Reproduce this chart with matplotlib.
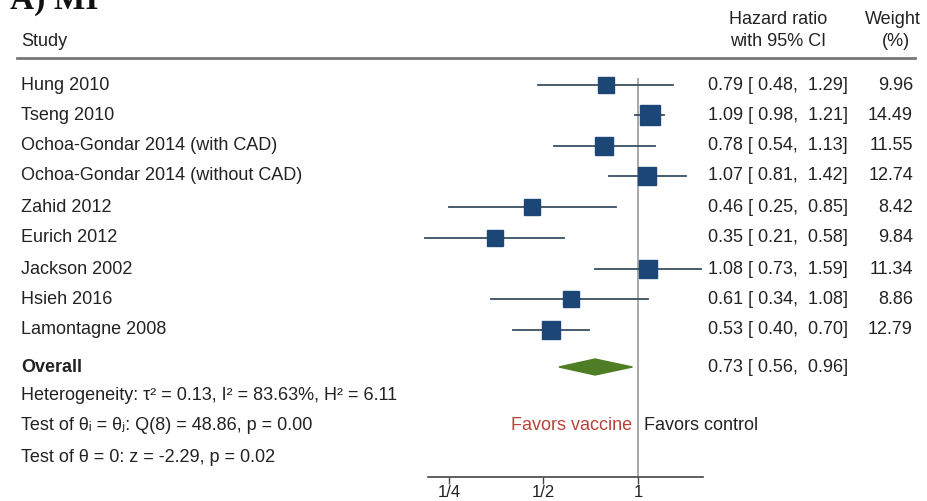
import matplotlib
matplotlib.use('Agg')
import numpy as np
import matplotlib.pyplot as plt

plt.rcParams['font.family'] = ['Liberation Sans', 'DejaVu Sans']

# ---- data ----
studies = ['Hung 2010', 'Tseng 2010', 'Ochoa-Gondar 2014 (with CAD)',
           'Ochoa-Gondar 2014 (without CAD)', 'Zahid 2012', 'Eurich 2012',
           'Jackson 2002', 'Hsieh 2016', 'Lamontagne 2008']
hr = [0.79, 1.09, 0.78, 1.07, 0.46, 0.35, 1.08, 0.61, 0.53]
lo = [0.48, 0.98, 0.54, 0.81, 0.25, 0.21, 0.73, 0.34, 0.40]
hi = [1.29, 1.21, 1.13, 1.42, 0.85, 0.58, 1.59, 1.08, 0.70]
weight = [9.96, 14.49, 11.55, 12.74, 8.42, 9.84, 11.34, 8.86, 12.79]
overall = (0.73, 0.56, 0.96)
stats_lines = ['Heterogeneity: \u03c4\u00b2 = 0.13, I\u00b2 = 83.63%, H\u00b2 = 6.11',
               'Test of \u03b8\u1d62 = \u03b8\u2c7c: Q(8) = 48.86, p = 0.00',
               'Test of \u03b8 = 0: z = -2.29, p = 0.02']
ticks = [0.25, 0.5, 1]
tick_labels = ['1/4', '1/2', '1']

W, H = 927, 501
fig = plt.figure(figsize=(W / 100, H / 100), dpi=100)

# background axes in pixel coordinates for the table text
bg = fig.add_axes([0, 0, 1, 1])
bg.set_xlim(0, W)
bg.set_ylim(H, 0)
bg.axis('off')

# forest axes (log2 scale)
top_px, bot_px = 78, 477
left_px, right_px = 428, 703
ax = fig.add_axes([left_px / W, 1 - bot_px / H, (right_px - left_px) / W, (bot_px - top_px) / H])
ax.patch.set_alpha(0)
ax.set_xscale('log', base=2)
ax.set_xlim(2 ** -2.222, 2 ** 0.688)
ax.set_ylim(bot_px, top_px)
for s in ['top', 'right', 'left']:
    ax.spines[s].set_visible(False)
ax.spines['bottom'].set_color('#444444')
ax.spines['bottom'].set_linewidth(1.2)
ax.set_yticks([])
ax.set_xticks(ticks)
ax.set_xticklabels(tick_labels, fontsize=12, color='#222222')
ax.xaxis.set_minor_locator(matplotlib.ticker.NullLocator())
ax.tick_params(axis='x', length=5, width=1, color='#444444', pad=1)

fs = 13
tc = '#222222'
row_y = [85, 115, 146, 176, 207, 238, 269, 299, 330]
overall_y = 367
stats_y = [396, 426, 457]

# null line
ax.axvline(1, color='#999999', lw=1.2, zorder=1)

# study rows
for i, name in enumerate(studies):
    y = row_y[i]
    ax.plot([lo[i], hi[i]], [y, y], color='#3a4f63', lw=1.3, zorder=2, clip_on=False)
    ax.plot(hr[i], y, marker='s', color='#1b4676', ms=5.25 * np.sqrt(weight[i]) * 0.72,
            zorder=3, clip_on=False)
    bg.text(21, y, name, fontsize=fs, color=tc, va='center')
    bg.text(708, y, '{:.2f} [ {:.2f},  {:.2f}]'.format(hr[i], lo[i], hi[i]),
            fontsize=fs, color=tc, va='center')
    bg.text(913, y, '{:.2f}'.format(weight[i]), fontsize=fs, color=tc, va='center', ha='right')

# overall diamond
m, l, h = overall
ax.fill([l, m, h, m], [overall_y, overall_y - 8, overall_y, overall_y + 8],
        color='#4f7d25', zorder=3)
bg.text(21, overall_y + 1, 'Overall', fontsize=fs, color=tc, va='center', fontweight='bold')
bg.text(708, overall_y + 1, '{:.2f} [ {:.2f},  {:.2f}]'.format(m, l, h),
        fontsize=fs, color=tc, va='center')

for y, s in zip(stats_y, stats_lines):
    bg.text(21, y, s, fontsize=fs, color=tc, va='center')

bg.text(632, 426, 'Favors vaccine', fontsize=fs, color='#b8423a', va='center', ha='right')
bg.text(644, 426, 'Favors control', fontsize=fs, color=tc, va='center', ha='left')

# header
bg.text(21, 41, 'Study', fontsize=fs, color=tc, va='center')
bg.text(778, 19, 'Hazard ratio', fontsize=fs, color=tc, va='center', ha='center')
bg.text(778, 41, 'with 95% CI', fontsize=fs, color=tc, va='center', ha='center')
bg.text(893, 19, 'Weight', fontsize=fs, color=tc, va='center', ha='center')
bg.text(896, 41, '(%)', fontsize=fs, color=tc, va='center', ha='center')
bg.plot([17, 915], [58, 58], color='#777777', lw=2)

# panel label (cut off at top in the original)
bg.text(10, 9, 'A) MI', fontsize=24, fontweight='bold', family='Liberation Serif',
        color='#111111', va='baseline')

fig.savefig('out.png', dpi=100)
